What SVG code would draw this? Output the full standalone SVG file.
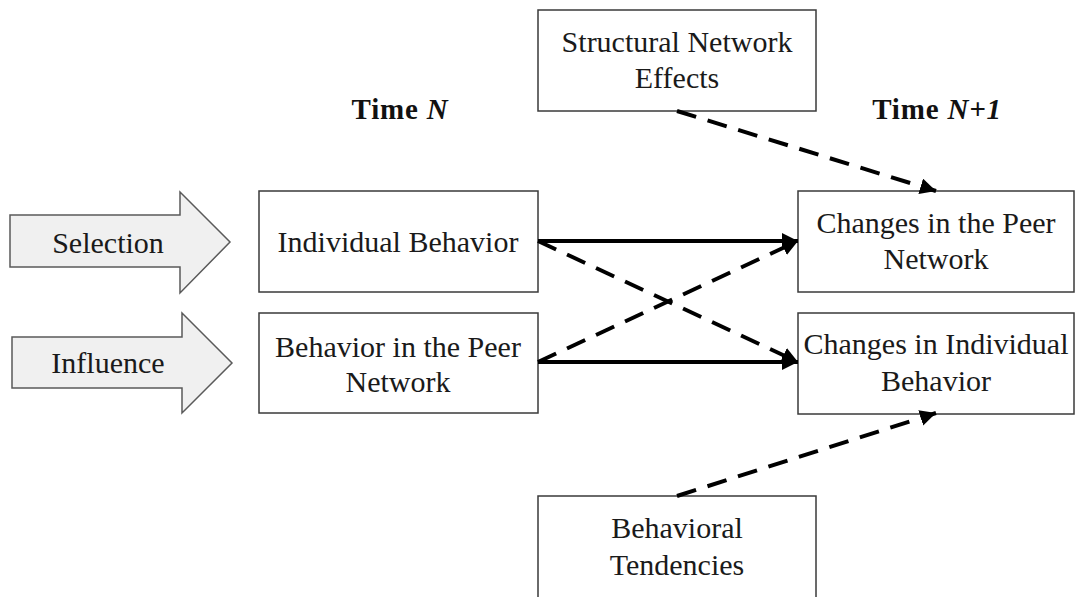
<svg xmlns="http://www.w3.org/2000/svg" width="1075" height="597" viewBox="0 0 1075 597">
<defs>
<style>
.box{fill:#fff;stroke:#3a3a3a;stroke-width:1.5}
.big{fill:#f0f0f0;stroke:#5a5a5a;stroke-width:1.5}
.t{font-family:"Liberation Serif","Times New Roman",serif;font-size:30px;fill:#1a1a1a;text-anchor:middle}
.h{font-family:"Liberation Serif","Times New Roman",serif;font-size:29px;font-weight:bold;fill:#111;text-anchor:middle;letter-spacing:0.8px}
.solid{stroke:#000;stroke-width:4;fill:none}
.dash{stroke:#000;stroke-width:4;fill:none;stroke-dasharray:20 12}
</style>
<marker id="ah" markerUnits="userSpaceOnUse" markerWidth="17" markerHeight="17" refX="16" refY="8" orient="auto">
<path d="M0,0 L16,8 L0,16 Z" fill="#000"/>
</marker>
</defs>
<g id="selection"><path class="big" d="M10,215 H180 V192 L230,242 L180,293 V267 H10 Z"/><text class="t" x="108" y="253">Selection</text></g>
<g id="influence"><path class="big" d="M12,337 H182 V313 L232,363 L182,413 V388 H12 Z"/><text class="t" x="108" y="373">Influence</text></g>
<g id="timeN"><text class="h" x="400" y="119">Time <tspan font-style="italic">N</tspan></text></g>
<g id="timeN1"><text class="h" x="937" y="119">Time <tspan font-style="italic">N+1</tspan></text></g>
<g id="structural"><rect class="box" x="538" y="10" width="278" height="101"/><text class="t" x="677" y="52">Structural Network</text><text class="t" x="677" y="88">Effects</text></g>
<g id="indiv"><rect class="box" x="259" y="191" width="279" height="101"/><text class="t" x="398" y="252">Individual Behavior</text></g>
<g id="peer"><rect class="box" x="259" y="313" width="279" height="100"/><text class="t" x="398" y="357">Behavior in the Peer</text><text class="t" x="398" y="392">Network</text></g>
<g id="chpeer"><rect class="box" x="798" y="191" width="276" height="101"/><text class="t" x="936" y="233">Changes in the Peer</text><text class="t" x="936" y="269">Network</text></g>
<g id="chindiv"><rect class="box" x="798" y="313" width="276" height="101"/><text class="t" x="936" y="354">Changes in Individual</text><text class="t" x="936" y="391">Behavior</text></g>
<g id="tend"><rect class="box" x="538" y="496" width="278" height="110"/><text class="t" x="677" y="538">Behavioral</text><text class="t" x="677" y="575">Tendencies</text></g>
<g id="connectors">
<line class="solid" x1="538" y1="241" x2="798" y2="241" marker-end="url(#ah)"/>
<line class="solid" x1="538" y1="362" x2="798" y2="362" marker-end="url(#ah)"/>
<line class="dash" x1="538" y1="241" x2="798" y2="362" marker-end="url(#ah)"/>
<line class="dash" x1="538" y1="362" x2="798" y2="241" marker-end="url(#ah)"/>
<line class="dash" x1="677" y1="111" x2="936" y2="191" marker-end="url(#ah)"/>
<line class="dash" x1="677" y1="496" x2="936" y2="413" marker-end="url(#ah)"/>
</g>
</svg>
